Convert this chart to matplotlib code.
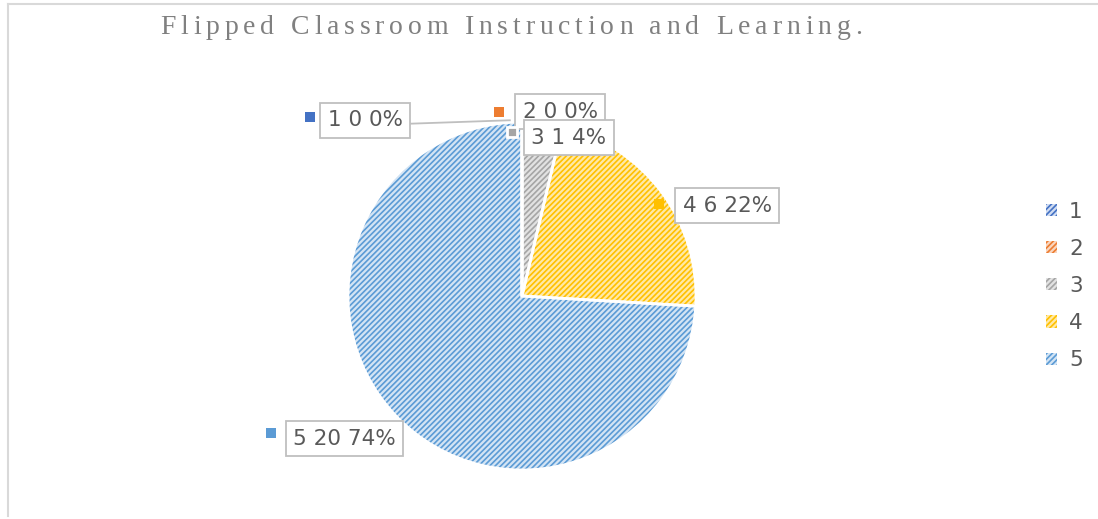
import matplotlib
matplotlib.use("Agg")
import matplotlib.pyplot as plt
from matplotlib.lines import Line2D

# data
categories = ["1", "2", "3", "4", "5"]
counts = [0, 0, 1, 6, 20]
colors = ["#4472c4", "#ed7d31", "#a5a5a5", "#ffc000", "#5b9bd5"]
light = ["#d0dcf2", "#f9d6bf", "#e2e2e2", "#ffe9a6", "#d3e4f4"]
title = "Flipped Classroom Instruction and Learning."

# label text / marker positions in pie units (radius 1)
label_pos = [(-0.90, 1.01), (0.22, 1.06), (0.27, 0.91), (1.18, 0.52), (-1.02, -0.82)]
marker_pos = [(-1.22, 1.03), (-0.13, 1.06), (-0.06, 0.94), (0.79, 0.53), (-1.44, -0.79)]

W, H = 1098, 519
plt.rcParams["hatch.linewidth"] = 1.2
fig = plt.figure(figsize=(W / 100, H / 100), dpi=100)

# frame lines (left + top)
fig.add_artist(Line2D([8 / W, 8 / W], [0.005, 1 - 4 / H], color="#d9d9d9", lw=1.5))
fig.add_artist(Line2D([8 / W, 1], [1 - 4 / H, 1 - 4 / H], color="#d9d9d9", lw=1.5))

cx, cy, r = 522, 296, 174
ax = fig.add_axes([(cx - r) / W, (H - cy - r) / H, 2 * r / W, 2 * r / H])
ax.axis("off")

wedges, _ = ax.pie(counts, colors=light, startangle=90, counterclock=False,
                   radius=1, wedgeprops=dict(linewidth=0))
for w, c in zip(wedges, colors):
    w.set_edgecolor(c)
    w.set_linewidth(0)
    w.set_hatch("//////")
ax.pie(counts, colors=["none"] * 5, startangle=90, counterclock=False, radius=1,
       wedgeprops=dict(linewidth=2, edgecolor="white", facecolor="none"))
ax.set_xlim(-1, 1)
ax.set_ylim(-1, 1)

total = sum(counts)
# leader line for label 1
ax.plot([-0.65, -0.07], [0.99, 1.01], color="#bfbfbf", lw=1.3, clip_on=False)

order = [0, 1, 3, 4, 2]
for i in order:
    pct = round(100 * counts[i] / total)
    txt = f"{categories[i]} {counts[i]} {pct}%"
    ax.text(label_pos[i][0], label_pos[i][1], txt, ha="center", va="center",
            fontsize=15.5, color="#595959", clip_on=False, zorder=5 + i,
            bbox=dict(boxstyle="square,pad=0.35", fc="white", ec="#bfbfbf", lw=1.3))
    ax.plot(marker_pos[i][0], marker_pos[i][1], marker="s", ms=6.5, color=colors[i],
            mec="white", mew=2 if i == 2 else 0, clip_on=False, zorder=5 + i)

# legend
handles = [plt.Rectangle((0, 0), 1, 1, fc=l, ec=c, lw=0, hatch="//////") for l, c in zip(light, colors)]
fig.legend(handles, categories, loc="center left", bbox_to_anchor=(1027 / W, 1 - 286 / H),
           frameon=False, fontsize=15.5, handlelength=0.5, handleheight=0.5,
           handletextpad=0.55, labelspacing=0.8, labelcolor="#595959")

# title with letter spacing
fig.canvas.draw()
rend = fig.canvas.get_renderer()
tkw = dict(fontsize=20, family="Liberation Serif", color="#808080")


def text_w(s):
    t = fig.text(0, 0, s + "|", **tkw)
    w = t.get_window_extent(rend).width
    t.remove()
    return w


bar_w = text_w("")
natural = text_w(title) - bar_w
x0, x1 = 160, 862
track = (x1 - x0 - natural) / (len(title) - 1)
for k, ch in enumerate(title):
    if ch == " ":
        continue
    px = x0 + (text_w(title[:k]) - bar_w) + k * track
    fig.text(px / W, 1 - 28 / H, ch, ha="left", va="center", **tkw)

fig.savefig("out.png", dpi=100)
